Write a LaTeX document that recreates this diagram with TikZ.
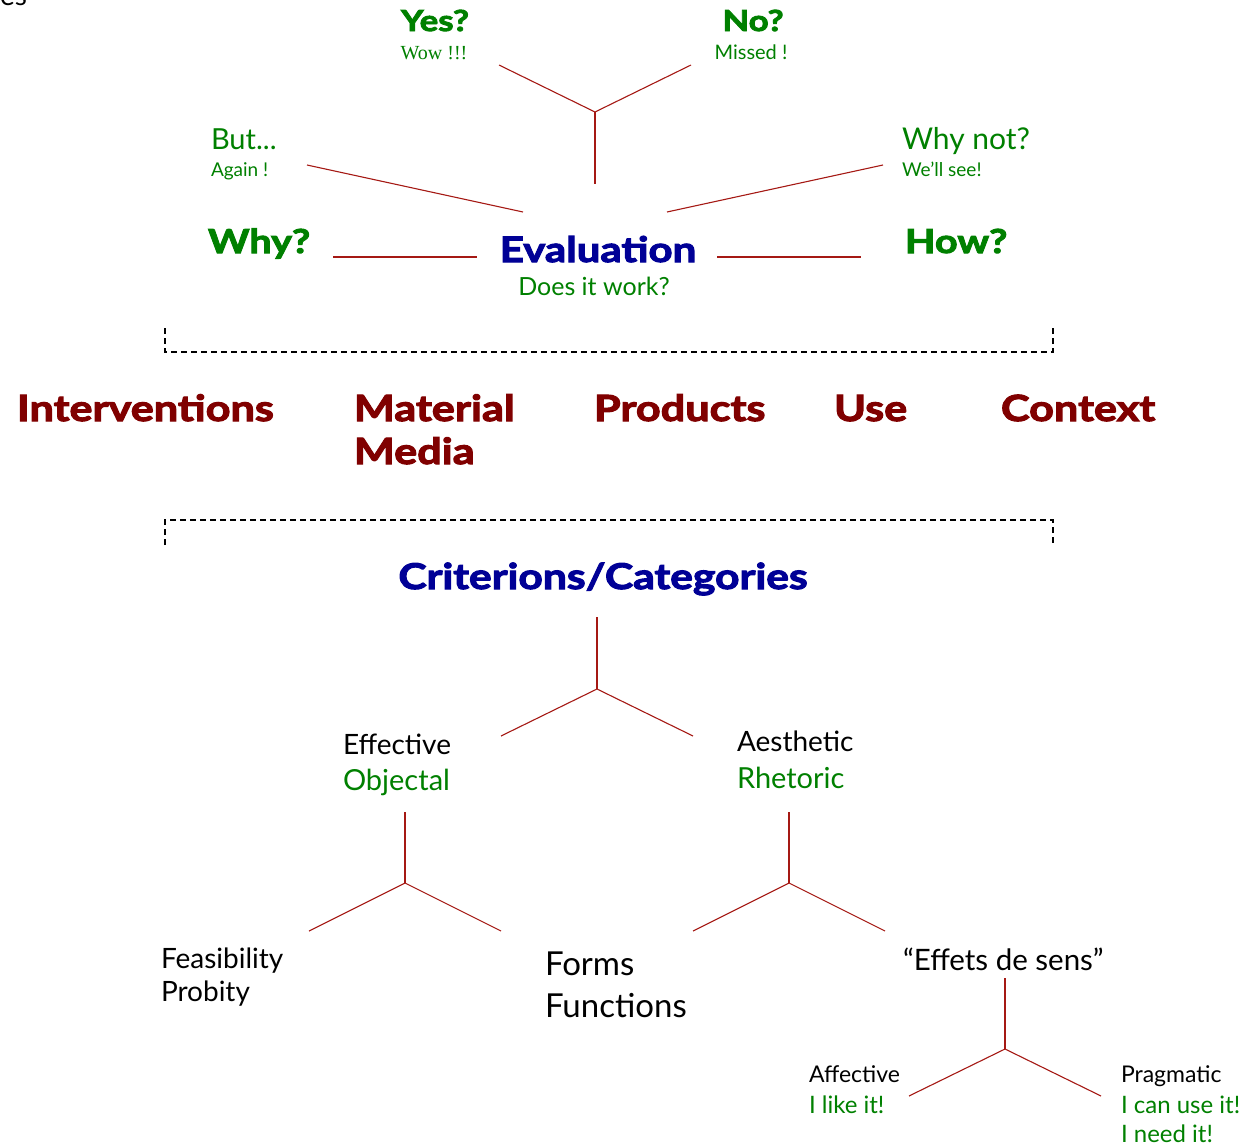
\documentclass[tikz,border=0pt]{standalone}
\usepackage{fontspec}
\setmainfont{Lato}[BoldFeatures={FakeBold=3,FakeStretch=1.2}]
\newfontfamily\serifw{Liberation Serif}
\definecolor{dgreen}{RGB}{0,128,0}
\definecolor{dblue}{RGB}{0,0,150}
\definecolor{dred}{RGB}{128,0,0}
\definecolor{lred}{RGB}{165,25,20}
\begin{document}
\begin{tikzpicture}[x=1pt,y=-1pt,
  lbl/.style={anchor=base west,inner sep=0pt,outer sep=0pt},
  clbl/.style={anchor=base,inner sep=0pt,outer sep=0pt},
  hv/.style={font=\bfseries\fontsize{#1}{#1}\selectfont},
  rg/.style={font=\fontsize{#1}{#1}\selectfont},
  grn/.style={text=dgreen},
  cat/.style={lbl,text=dred,hv=36},
  link/.style={draw=lred,line width=1.1pt},
  brk/.style={draw=black,dash pattern=on 6pt off 4pt,line width=1.4pt}]
\useasboundingbox (0,0) rectangle (1253,1146);
% cut-off text
\node[lbl,rg=28] (cut) at (0,5) {es};
% top tree
\node[clbl,grn,hv=29] (yes) at (435,31) {Yes?};
\node[clbl,grn,font=\serifw\fontsize{20}{20}\selectfont] (wow) at (434,59) {Wow !!!};
\node[clbl,grn,hv=29] (no) at (753,31) {No?};
\node[clbl,grn,rg=20] (missed) at (751,59) {Missed !};
\coordinate (tj) at (595,112);
\coordinate (tl) at (499,65);
\coordinate (tr) at (691,65);
\coordinate (tb) at (595,184);
\draw[link] (tl) -- (tj) -- (tr);
\draw[link] (tj) -- (tb);
\node[lbl,grn,rg=29] (but) at (211,149) {But...};
\node[lbl,grn,rg=19] (again) at (211,176) {Again !};
\node[lbl,grn,rg=30] (whynot) at (902,149) {Why not?};
\node[lbl,grn,rg=19] (wellsee) at (902,176) {We'll see!};
\coordinate (bl1) at (307,165); \coordinate (bl2) at (523,212);
\coordinate (br1) at (883,165); \coordinate (br2) at (667,212);
\draw[link] (bl1) -- (bl2);
\draw[link] (br1) -- (br2);
\node[lbl,grn,hv=33] (why) at (208,253) {Why?};
\node[lbl,grn,hv=33] (how) at (905,253) {How?};
\node[clbl,text=dblue,hv=35] (eval) at (598,262) {Evaluation};
\node[clbl,grn,rg=25] (work) at (594,295) {Does it work?};
\coordinate (wl1) at (333,257); \coordinate (wl2) at (477,257);
\coordinate (hl1) at (717,257); \coordinate (hl2) at (861,257);
\draw[link] (wl1) -- (wl2);
\draw[link] (hl1) -- (hl2);
% brackets
\draw[brk] (165,328) -- (165,352) -- (1053,352) -- (1053,328);
\draw[brk] (165,545) -- (165,520) -- (1053,520) -- (1053,545);
% categories
\node[cat] (interv) at (17,421) {Interventions};
\node[cat] (material) at (354,421) {Material};
\node[cat] (media) at (354,464) {Media};
\node[cat] (products) at (594,421) {Products};
\node[cat] (use) at (834,421) {Use};
\node[cat] (context) at (1001,421) {Context};
% criterions
\node[clbl,text=dblue,hv=35.5] (crit) at (603,589) {Criterions/Categories};
\coordinate (c0) at (597,617); \coordinate (cj) at (597,689);
\coordinate (cl) at (501,736); \coordinate (cr) at (693,736);
\draw[link] (c0) -- (cj); \draw[link] (cl) -- (cj) -- (cr);
\node[lbl,rg=28] (effective) at (343,754) {Effective};
\node[lbl,grn,rg=29] (objectal) at (343,790) {Objectal};
\node[lbl,rg=28] (aesthetic) at (737,751) {Aesthetic};
\node[lbl,grn,rg=29] (rhetoric) at (737,788) {Rhetoric};
\coordinate (e0) at (405,812); \coordinate (ej) at (405,883);
\coordinate (el) at (309,931); \coordinate (er) at (501,931);
\draw[link] (e0) -- (ej); \draw[link] (el) -- (ej) -- (er);
\coordinate (a0) at (789,812); \coordinate (aj) at (789,883);
\coordinate (al) at (693,931); \coordinate (ar) at (885,931);
\draw[link] (a0) -- (aj); \draw[link] (al) -- (aj) -- (ar);
\node[lbl,rg=28] (feas) at (161,968) {Feasibility};
\node[lbl,rg=28] (probity) at (161,1001) {Probity};
\node[lbl,rg=33] (forms) at (545,975) {Forms};
\node[lbl,rg=33] (functions) at (545,1017) {Functions};
\node[lbl,rg=29.5] (effets) at (903,970) {``Effets de sens''};
\coordinate (s0) at (1005,978); \coordinate (sj) at (1005,1049);
\coordinate (sl) at (909,1096); \coordinate (sr) at (1101,1096);
\draw[link] (s0) -- (sj); \draw[link] (sl) -- (sj) -- (sr);
\node[lbl,rg=23] (affective) at (809,1082) {Affective};
\node[lbl,grn,rg=24] (like) at (809,1113) {I like it!};
\node[lbl,rg=23] (pragmatic) at (1121,1082) {Pragmatic};
\node[lbl,grn,rg=24] (canuse) at (1121,1113) {I can use it!};
\node[lbl,grn,rg=24] (need) at (1121,1142) {I need it!};
\end{tikzpicture}
\end{document}
